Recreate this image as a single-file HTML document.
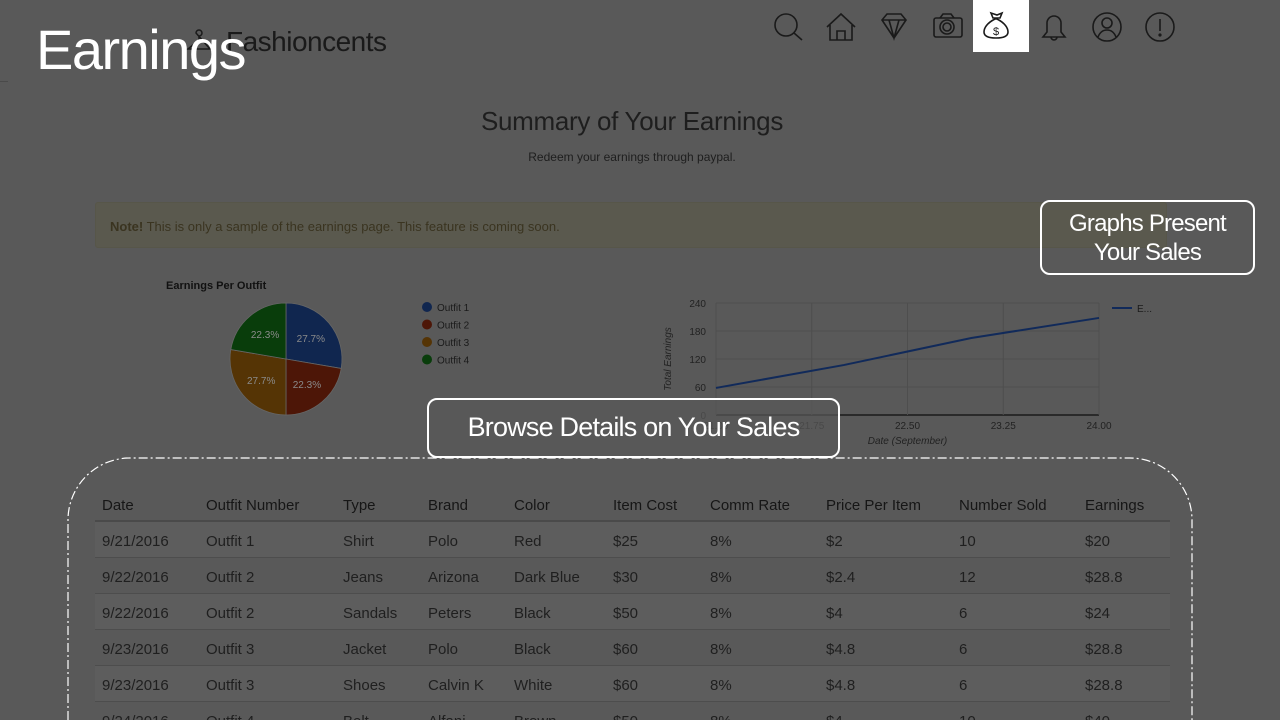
<!DOCTYPE html>
<html><head><meta charset="utf-8">
<style>
*{margin:0;padding:0;box-sizing:border-box}
html,body{width:1280px;height:720px;overflow:hidden}
body{background:#595959;font-family:"Liberation Sans",sans-serif;position:relative;color:#1f1f1f}
.abs{position:absolute}
.tbl{position:absolute;left:95px;top:486px;width:1075px;height:234px;overflow:hidden;font-size:15px}
.row{position:relative;height:36px;border-bottom:1px solid #4d4d4d}
.row span{position:absolute;top:11px;white-space:nowrap}
.row.h{border-bottom:2px solid #4a4a4a;color:#161616}
.row.alt{background:#5d5d5d}
</style></head><body>
<div class="abs" style="left:36px;top:17px;font-size:56px;color:#fff;letter-spacing:-1.5px;z-index:5">Earnings</div>
<div class="abs" style="left:186px;top:26px;font-size:28px;color:#1a1a1a;letter-spacing:-0.5px">
<svg width="40" height="30" style="vertical-align:middle"><path d="M10 4a3 3 0 1 1 3 3v4L2 20h22z" fill="none" stroke="#1a1a1a" stroke-width="1.5"/></svg>Fashioncents</div>
<div class="abs" style="left:0;top:81px;width:8px;height:1px;background:#4a4a4a"></div>
<div class="abs" style="left:973px;top:0;width:56px;height:52px;background:#fff"></div>
<svg class="abs" style="left:760px;top:0" width="420" height="52" fill="none" stroke="#1a1a1a" stroke-width="1.6">
<g><circle cx="26" cy="25" r="11"/><line x1="34" y1="33" x2="42" y2="40"/></g>
<g><path d="M67 27l14-13 14 13M70 25v15h22V25M77 40v-9h8v9"/></g>
<g><path d="M122 20l5-6h14l5 6-12 18zM122 20h24M129 20l5 18 5-18"/></g>
<g><rect x="174" y="18" width="28" height="19" rx="2"/><circle cx="187" cy="27" r="7"/><circle cx="187" cy="27" r="4"/><path d="M180 18l3-4h8l3 4"/></g>
<g><path d="M235 19c-8 4-11 9-11 13 0 4 4 6 12 6s12-2 12-6c0-4-3-9-11-13z"/><path d="M233 18l-2-5 6 2 5-2-2 5z"/><text x="236" y="35" font-size="11" fill="#1a1a1a" stroke="none" text-anchor="middle">$</text></g>
<g><path d="M283 37h22l-4-5v-9a7 7 0 0 0-14 0v9z"/><path d="M291 37a3 3 0 0 0 6 0"/></g>
<g><circle cx="347" cy="27" r="14"/><circle cx="347" cy="23" r="5"/><path d="M338 37c2-5 5-7 9-7s7 2 9 7"/></g>
<g><circle cx="400" cy="27" r="14"/><line x1="400" y1="19" x2="400" y2="31"/><circle cx="400" cy="35" r="0.8"/></g>
</svg>
<div class="abs" style="left:0;width:1264px;top:106px;text-align:center;font-size:26px;color:#1e1e1e;letter-spacing:-0.3px">Summary of Your Earnings</div>
<div class="abs" style="left:0;width:1264px;top:150px;text-align:center;font-size:12px;color:#1e1e1e">Redeem your earnings through paypal.</div>
<div class="abs" style="left:95px;top:202px;width:1072px;height:46px;background:#5a594e;border:1px solid #575649;border-radius:3px;font-size:13px;color:#3a3420;padding:16px 14px"><b>Note!</b> This is only a sample of the earnings page. This feature is coming soon.</div>

<svg class="abs" style="left:150px;top:270px" width="340" height="160" id="pie">
<text x="16" y="19" font-size="11" font-weight="bold" fill="#111">Earnings Per Outfit</text>
</svg>
<svg class="abs" style="left:640px;top:280px" width="540" height="170" id="line"></svg>

<div class="tbl" id="tbl"></div>

<div class="abs" style="left:1040px;top:200px;width:215px;height:75px;border:2px solid #fff;border-radius:10px;color:#fff;font-size:24px;text-align:center;line-height:29px;padding-top:7px;letter-spacing:-0.8px">Graphs Present<br>Your Sales</div>
<svg class="abs" style="left:0;top:0" width="1280" height="720" pointer-events="none">
<path d="M68 720V520A62 62 0 0 1 130 458H1130A62 62 0 0 1 1192 520V720" fill="none" stroke="#fff" stroke-width="1.2" stroke-dasharray="9 3 2 3"/>
</svg>
<div class="abs" style="left:427px;top:398px;width:413px;height:60px;border:2px solid #fff;border-radius:10px;color:#fff;font-size:27px;text-align:center;line-height:54px;letter-spacing:-0.8px;background:rgba(89,89,89,0.7)">Browse Details on Your Sales</div>

<script>
const pieLabels=["Outfit 1","Outfit 2","Outfit 3","Outfit 4"];
const pieValues=[27.7,22.3,27.7,22.3];
const pieColors=["#10264f","#4d1607","#553405","#093d0b"];
const lineX=[21,22,23,24];
const lineY=[58,107,165,208];
const yTicks=[0,60,120,180,240];
const xTicks=["21.00","21.75","22.50","23.25","24.00"];
const tableHead=["Date","Outfit Number","Type","Brand","Color","Item Cost","Comm Rate","Price Per Item","Number Sold","Earnings"];
const tableRows=[
["9/21/2016","Outfit 1","Shirt","Polo","Red","$25","8%","$2","10","$20"],
["9/22/2016","Outfit 2","Jeans","Arizona","Dark Blue","$30","8%","$2.4","12","$28.8"],
["9/22/2016","Outfit 2","Sandals","Peters","Black","$50","8%","$4","6","$24"],
["9/23/2016","Outfit 3","Jacket","Polo","Black","$60","8%","$4.8","6","$28.8"],
["9/23/2016","Outfit 3","Shoes","Calvin K","White","$60","8%","$4.8","6","$28.8"],
["9/24/2016","Outfit 4","Belt","Alfani","Brown","$50","8%","$4","10","$40"]];
const NS="http://www.w3.org/2000/svg";
function mk(p,t,a){const e=document.createElementNS(NS,t);for(const k in a)e.setAttribute(k,a[k]);p.appendChild(e);return e;}
const pie=document.getElementById('pie');
const cx=136,cy=89,r=56;let tot=pieValues.reduce((a,b)=>a+b,0),ang=-Math.PI/2;
pieValues.forEach((v,i)=>{
 const a2=ang+v/tot*2*Math.PI;
 const x1=cx+r*Math.cos(ang),y1=cy+r*Math.sin(ang),x2=cx+r*Math.cos(a2),y2=cy+r*Math.sin(a2);
 const s=mk(pie,'path',{d:`M${cx} ${cy}L${x1} ${y1}A${r} ${r} 0 ${a2-ang>Math.PI?1:0} 1 ${x2} ${y2}Z`,fill:pieColors[i],stroke:'#666','stroke-width':0.8});
 
 
 const m=(ang+a2)/2;
 const t=mk(pie,'text',{x:cx+r*0.58*Math.cos(m),y:cy+r*0.58*Math.sin(m)+4,'font-size':10,fill:'#8a8a8a','text-anchor':'middle'});
 t.textContent=v.toFixed(1)+'%';
 
 
 const ly=37+i*17.5;
 const c=mk(pie,'circle',{cx:277,cy:ly,r:5,fill:pieColors[i]});
 
 
 const lt=mk(pie,'text',{x:287,y:ly+4,'font-size':10,fill:'#1a1a1a'});
 lt.textContent=pieLabels[i];
 
 
 ang=a2;
});
const ln=document.getElementById('line');
const X0=76,X1=459,Y0=135,Y1=23;
const xs=v=>X0+(v-21)/3*(X1-X0), ys=v=>Y0-v/240*(Y0-Y1);
yTicks.forEach(v=>{
 const g=mk(ln,'line',{x1:X0,x2:X1,y1:ys(v),y2:ys(v),stroke:v?'#4e4e4e':'#2a2a2a','stroke-width':v?1:2});
 
 
 const t=mk(ln,'text',{x:X0-10,y:ys(v)+4,'font-size':10,fill:'#222','text-anchor':'end'});
 t.textContent=v;
 
 
});
xTicks.forEach(s=>{
 const v=parseFloat(s);
 const g=mk(ln,'line',{x1:xs(v),x2:xs(v),y1:Y1,y2:Y0,stroke:'#4e4e4e'});
 
 
 const t=mk(ln,'text',{x:xs(v),y:Y0+14,'font-size':10,fill:'#222','text-anchor':'middle'});
 t.textContent=s;
 
 
});
const pl=mk(ln,'polyline',{points:lineX.map((x,i)=>xs(x)+','+ys(lineY[i])).join(' '),fill:'none',stroke:'#112a5a','stroke-width':2});


const xt=mk(ln,'text',{x:(X0+X1)/2,y:164,'font-size':10,'font-style':'italic',fill:'#222','text-anchor':'middle'});
xt.textContent='Date (September)';


const yt=mk(ln,'text',{x:0,y:0,'font-size':10,'font-style':'italic',fill:'#222','text-anchor':'middle',transform:`translate(31,${(Y0+Y1)/2}) rotate(-90)`});
yt.textContent='Total Earnings';


const ll=mk(ln,'line',{x1:472,x2:492,y1:28,y2:28,stroke:'#112a5a','stroke-width':2});


const lt=mk(ln,'text',{x:497,y:32,'font-size':10,fill:'#1a1a1a'});
lt.textContent='E...';


const colX=[7,111,248,333,419,518,615,731,864,990];
const tb=document.getElementById('tbl');
function addRow(cells,cls,name){
 const r=document.createElement('div');r.className='row '+cls;
 
 
 cells.forEach((c,i)=>{const s=document.createElement('span');s.style.left=colX[i]+'px';s.textContent=c;
 
 
 r.appendChild(s);});
 tb.appendChild(r);
}
addRow(tableHead,'h','table-header');
tableRows.forEach((r,i)=>addRow(r,i%2==0?'alt':'','table-row'));
</script>
</body></html>
